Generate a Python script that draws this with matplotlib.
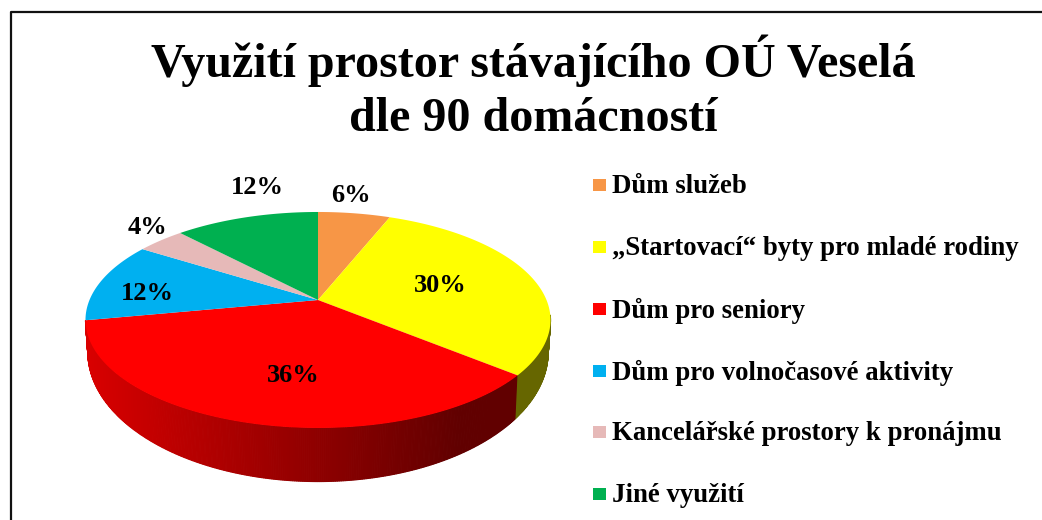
from matplotlib import pyplot as plt
import numpy as np

categories = ["Dům služeb", "„Startovací“ byty pro mladé rodiny", "Dům pro seniory",
              "Dům pro volnočasové aktivity", "Kancelářské prostory k pronájmu", "Jiné využití"]
shares = [6, 30, 36, 12, 4, 12]
colors = ["#F79646", "#FFFF00", "#FF0000", "#00B0F0", "#E6B9B8", "#00B050"]
title = "Využití prostor stávajícího OÚ Veselá\ndle 90 domácností"

cx, cy = 318, 300  # pie centre in pixels
k = 0.185  # perspective strength


# top face of the pie, angle is clockwise from 12 o'clock
def project(theta):
    X, Y = np.sin(theta), np.cos(theta)
    w = 1 + k * Y
    return cx + 228.5 * X / w, cy - 104.3 * Y / w


# bottom rim of the side wall
def project_low(theta):
    x, y = project(theta)
    return cx + (x - cx) * 0.99, 352 + (y - 320) * 1.2


plt.rcParams["font.family"] = ["Liberation Serif", "DejaVu Serif"]
plt.rcParams["font.weight"] = "bold"
fig = plt.figure(figsize=(10.42, 5.2), dpi=100)
ax = fig.add_axes([0, 0, 1, 1])
ax.set_xlim(0, 1042)
ax.set_ylim(520, 0)
ax.axis("off")

# slide frame, only the left and top edges are in the crop
ax.plot([10.5, 10.5, 1042], [520, 12, 12], color="#111111", lw=1.6)

edges = 2 * np.pi * np.cumsum([0] + shares) / sum(shares)

# side wall first: only the yellow and red slices show at the front
wall = np.linspace(np.radians(98), edges[3], 400)
for a, b in zip(wall[:-1], wall[1:]):
    xa, ya = project(a)
    xb, yb = project(b)
    xc, yc = project_low(b)
    xd, yd = project_low(a)
    if a < edges[2]:
        col = "#666600"
    else:
        t = np.clip((xa - 86) / (460 - 86), 0, 1)
        col = (0.85 - 0.47 * t, 0, 0)
    ax.fill([xa, xb, xc, xd], [ya, yb, yc, yd], color=col, lw=0.8)

# top face
for i in range(len(shares)):
    ang = np.linspace(edges[i], edges[i + 1], 80)
    x, y = project(ang)
    ax.fill(np.r_[cx, x], np.r_[cy, y], color=colors[i], lw=0)

label_xy = [(351, 195), (440, 285), (293, 375), (147, 293), (147, 228), (257, 187)]
for v, (x, y) in zip(shares, label_xy):
    ax.text(x, y, "%d%%" % v, ha="center", va="center", fontsize=19, color="black")

ax.text(533, 88, title, ha="center", va="center", fontsize=34.6, color="black", linespacing=1.3)

legend_y = [185, 247, 309, 371, 432, 494]
for name, c, y in zip(categories, colors, legend_y):
    ax.fill([593, 606, 606, 593], [y - 6, y - 6, y + 6, y + 6], color=c, lw=0)
    ax.text(612, y + 1.5, name, ha="left", va="center", fontsize=19.3, color="black")

fig.savefig("out.png", dpi=100)
